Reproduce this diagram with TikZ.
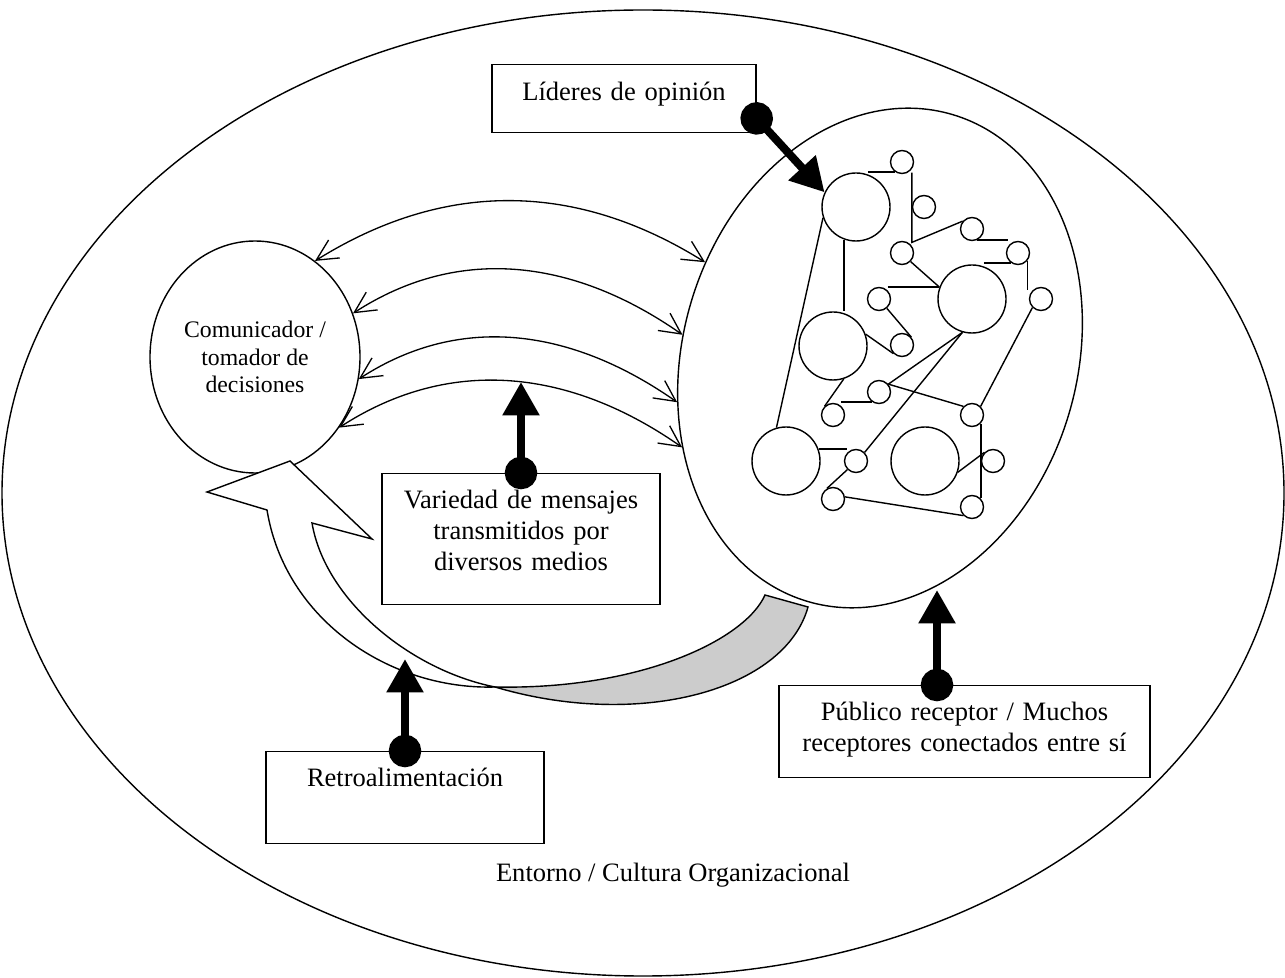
\documentclass[tikz,border=0pt]{standalone}
\usepackage{fontspec}
\setmainfont{Liberation Serif}
\usetikzlibrary{arrows.meta,shapes.geometric}

\begin{document}
\begin{tikzpicture}[
  box/.style={draw, line width=0.8pt, fill=white, anchor=north, inner sep=0pt,
    align=center, text height=0.70cm, font=\fontsize{15.1}{17.6}\selectfont},
  bigcirc/.style={circle, draw, line width=0.8pt, fill=white, minimum size=1.36cm, inner sep=0pt},
  smallcirc/.style={circle, draw, line width=0.8pt, fill=white, minimum size=0.46cm, inner sep=0pt},
  link/.style={line width=0.8pt},
  flow/.style={line width=0.75pt,
    {Straight Barb[length=12pt,width=12pt]}-{Straight Barb[length=12pt,width=12pt]}},
  pointer/.style={line width=4.6pt,
    {Circle[length=18.5pt]}-{Triangle[length=19pt,width=20pt]}, shorten <=-9.25pt}
]
\useasboundingbox (0,0) rectangle (25.70,19.54);
% Entorno
\draw[line width=0.8pt] (12.86,9.68) ellipse [x radius=12.82, y radius=9.66];
\node[anchor=base, font=\fontsize{15.1}{17.6}\selectfont] (entorno) at (13.46,1.906)
  {Entorno / Cultura Organizacional};
% the two actors
\node[ellipse, draw, line width=0.8pt, minimum width=7.88cm, minimum height=10.16cm,
  inner sep=0pt, rotate=-16.7] (publico) at (17.60,12.38) {};
\node[ellipse, draw, line width=0.8pt, minimum width=4.2cm, minimum height=4.64cm,
  inner sep=0pt, align=center, font=\fontsize{13.5}{15.6}\selectfont] (comunicador)
  at (5.10,12.40) {Comunicador /\\tomador de\\decisiones};
% feedback arrow -- grey underside, then white part
\draw[line width=0.8pt, fill=gray!40] (15.30,7.64) .. controls (14.90,6.74) and (12.80,5.74) .. (9.90,5.80)
  .. controls (12.80,4.94) and (15.70,5.74) .. (16.16,7.40) -- cycle;
\draw[line width=0.8pt, fill=white] (9.90,5.80) .. controls (7.80,5.74) and (5.70,7.14) .. (5.34,9.34)
  -- (4.14,9.70) -- (5.80,10.32) -- (7.44,8.76) -- (6.24,9.08)
  .. controls (6.50,7.54) and (8.20,6.14) .. (9.90,5.80) -- cycle;
% messages both ways
\draw[flow] (comunicador.58) to[out=32,in=148] (publico.168);
\draw[flow] (comunicador.24) to[out=33,in=145] (publico.190);
\draw[flow] (comunicador.-12) to[out=33,in=145] (publico.209);
\draw[flow] (comunicador.-40) to[out=33,in=145] (publico.221);
% the network of receivers
\foreach \n/\x/\y in {lider1/17.12/15.40, lider2/19.44/13.56, lider3/16.66/12.62,
    lider4/15.72/10.32, lider5/18.50/10.32} {
  \node[bigcirc] (\n) at (\x,\y) {};
}
\foreach \n/\x/\y in {rec1/18.04/16.30, rec2/18.48/15.40, rec3/19.44/14.96, rec4/18.04/14.48,
    rec5/20.36/14.48, rec6/17.58/13.56, rec7/20.82/13.56, rec8/18.04/12.64, rec9/17.58/11.70,
    rec10/16.66/11.24, rec11/19.44/11.24, rec12/17.12/10.32, rec13/19.86/10.32,
    rec14/16.66/9.56, rec15/19.44/9.40} {
  \node[smallcirc] (\n) at (\x,\y) {};
}
\foreach \a/\b in {rec4.-45/lider2.160, rec6.-50/rec8.40, lider3.20/rec8.225,
    lider1.198/lider4.106, lider3.-72/rec10.133, rec9.40/lider2.254, rec9.40/rec11.135,
    lider2.254/rec12.45, rec11.45/rec7.225, lider5.-19/rec13.135, rec12.225/rec14.120,
    rec14.10/rec15.225} {
  \draw[link] (\a) -- (\b);
}
% straight pieces
\draw[link] (lider1.70 |- rec1.235) -- (rec1.235);
\draw[link] (rec2.west |- rec1.-60) -- (rec2.west |- rec4.60) -- (rec3.140);
\draw[link] (rec3.-65) -- (rec3.-65 -| rec5.145);
\draw[link] (lider2.70 |- rec5.235) -- (rec5.235);
\draw[link] (rec5.-40) -- (rec5.-40 |- rec7.130);
\draw[link] (rec6.45 |- lider2.160) -- (lider2.160);
\draw[link] (lider1.250) -- (lider1.250 |- lider3.north);
\draw[link] (rec10.50 |- rec9.235) -- (rec9.235);
\draw[link] (rec13.west |- rec11.-45) -- (rec13.west |- rec15.45);
\draw[link] (lider4.20) -- (lider4.20 -| rec12.135);
% the labels
\node[box, text width=5.28cm, text height=0.72cm, text depth=0.64cm] (lideres) at (12.48,18.26)
  {Líderes de opinión};
\node[box, text width=5.56cm, text depth=1.92cm] (variedad) at (10.42,10.08)
  {Variedad de mensajes\\transmitidos por\\diversos medios};
\node[box, text width=5.56cm, text depth=1.14cm] (retro) at (8.10,4.52)
  {Retroalimentación};
\node[box, text width=7.42cm, text depth=1.14cm] (receptor) at (19.29,5.84)
  {Público receptor / Muchos\\receptores conectados entre sí};
% pointers
\coordinate (mensajetip) at (10.42,11.90);
\coordinate (retrotip) at (8.10,6.36);
\coordinate (receptortip) at (18.74,7.74);
\draw[pointer] ([yshift=0.3cm]lideres.south east) -- (lider1.155);
\draw[pointer] (variedad.north) -- (mensajetip);
\draw[pointer] (retro.north) -- (retrotip);
\draw[pointer] (receptortip |- receptor.north) -- (receptortip);
\end{tikzpicture}
\end{document}
